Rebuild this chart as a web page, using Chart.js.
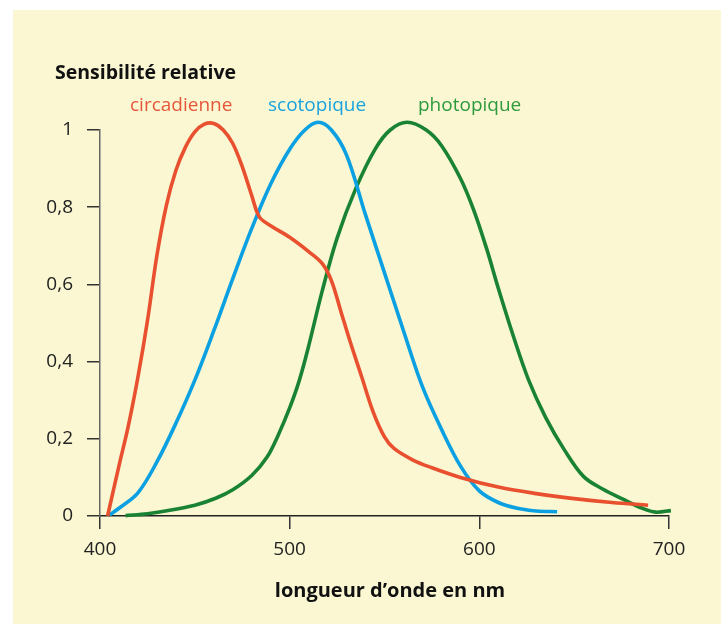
<!DOCTYPE html>
<html lang="fr">
<head>
  <meta charset="UTF-8">
  <title>Sensibilité relative</title>
  <script src="https://cdn.jsdelivr.net/npm/chart.js"></script>
  <style>
    body {
      margin: 0;
      background: #fff;
      font-family: 'Open Sans', sans-serif;
      overflow: hidden;
    }
    .panel {
      position: absolute;
      left: 13px;
      top: 10px;
      right: 0;
      bottom: 1px;
      background: #faf7d2;
    }
    .wrap {
      position: absolute;
      left: 0;
      top: 0;
      width: 721px;
      height: 625px;
    }
    .label {
      position: absolute;
      white-space: nowrap;
    }
    .ytitle {
      left: 55px;
      top: 59px;
      font-size: 19.5px;
      font-weight: 700;
      line-height: 26px;
      color: #111;
    }
    .xtitle {
      left: 390px;
      top: 577px;
      transform: translateX(-50%);
      font-size: 20px;
      font-weight: 700;
      line-height: 26px;
      color: #111;
    }
    .serie {
      top: 91px;
      font-size: 19px;
      line-height: 26px;
    }
  </style>
</head>
<body>
  <div class="panel"></div>
  <div class="wrap">
    <canvas id="chart" width="721" height="625"></canvas>
  </div>
  <div class="label ytitle">Sensibilité relative</div>
  <div class="label serie" style="left:130px;color:#e8563a">circadienne</div>
  <div class="label serie" style="left:268px;color:#1ba3dd">scotopique</div>
  <div class="label serie" style="left:418px;color:#2e9a3e">photopique</div>
  <div class="label xtitle">longueur d’onde en nm</div>

  <script>
    // wavelengths (nm) and relative sensitivity
    const circNm = [404, 410, 415, 420, 425, 430, 435, 440, 445, 450, 455, 460, 465, 470, 475, 480, 484, 490, 500, 510, 517, 522, 527, 532, 538, 544, 550, 555, 565, 575, 590, 610, 630, 650, 670, 689];
    const circVal = [0, 0.13, 0.235, 0.36, 0.505, 0.675, 0.805, 0.895, 0.955, 0.995, 1.015, 1.017, 1.0, 0.965, 0.905, 0.83, 0.775, 0.752, 0.722, 0.685, 0.655, 0.61, 0.53, 0.45, 0.36, 0.27, 0.205, 0.175, 0.145, 0.125, 0.1, 0.075, 0.058, 0.045, 0.035, 0.028];

    const scotNm = [405, 410, 420, 430, 440, 450, 460, 470, 480, 490, 500, 508, 515, 522, 530, 540, 550, 560, 570, 580, 590, 600, 610, 620, 630, 641];
    const scotVal = [0.003, 0.02, 0.06, 0.14, 0.24, 0.352, 0.48, 0.615, 0.745, 0.86, 0.95, 1.0, 1.02, 1.0, 0.935, 0.78, 0.63, 0.48, 0.335, 0.225, 0.13, 0.065, 0.035, 0.02, 0.013, 0.011];

    const photNm = [413.5, 425, 436, 450, 461, 470, 480, 488, 494, 500, 505, 510, 517, 525, 535, 545, 553, 562, 572, 580, 590, 597, 604, 610, 618, 626, 635, 645, 655, 665, 676, 686, 693, 701];
    const photVal = [0.001, 0.006, 0.014, 0.028, 0.046, 0.068, 0.105, 0.152, 0.21, 0.28, 0.35, 0.44, 0.58, 0.72, 0.85, 0.95, 1.0, 1.02, 1.0, 0.96, 0.875, 0.793, 0.69, 0.59, 0.465, 0.352, 0.255, 0.17, 0.102, 0.07, 0.043, 0.02, 0.01, 0.014];

    const xTicks = [400, 500, 600, 700];
    const yTicks = [0, 0.2, 0.4, 0.6, 0.8, 1];

    const pts = (xs, ys) => xs.map((x, i) => ({ x: x, y: ys[i] }));

    function line(data, color) {
      return {
        data: data,
        borderColor: color,
        borderWidth: 3.6,
        pointRadius: 0,
        fill: false,
        tension: 0.35,
        clip: false
      };
    }

    const tickFont = { family: 'Open Sans', size: 19 };

    new Chart(document.getElementById('chart'), {
      type: 'line',
      data: {
        datasets: [
          line(pts(circNm, circVal), '#e8502f'),
          line(pts(scotNm, scotVal), '#0aa0e2'),
          line(pts(photNm, photVal), '#1a8333')
        ]
      },
      options: {
        responsive: false,
        animation: false,
        layout: { padding: { left: 0, right: 52, top: 130, bottom: 0 } },
        plugins: { legend: { display: false }, tooltip: { enabled: false } },
        scales: {
          x: {
            type: 'linear',
            min: 400,
            max: 700,
            afterBuildTicks: s => { s.ticks = xTicks.map(v => ({ value: v })); },
            afterFit: s => { s.height = 109; },
            grid: { drawOnChartArea: false, tickLength: 13, color: '#333', lineWidth: 1.5 },
            border: { color: '#222', width: 1.5 },
            ticks: { color: '#222', font: tickFont, padding: 9, maxRotation: 0 }
          },
          y: {
            min: 0,
            max: 1,
            afterBuildTicks: s => { s.ticks = yTicks.map(v => ({ value: v })); },
            afterFit: s => { s.width = 100; },
            grid: { drawOnChartArea: false, tickLength: 13, color: '#333', lineWidth: 1.5 },
            border: { color: '#666', width: 1.5 },
            ticks: {
              color: '#222',
              font: tickFont,
              padding: 14,
              callback: v => String(v).replace('.', ',')
            }
          }
        }
      }
    });
  </script>
</body>
</html>
